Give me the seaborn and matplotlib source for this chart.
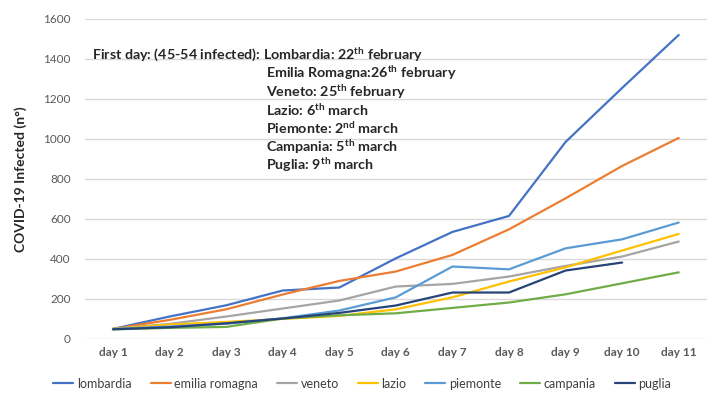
import numpy as np
import pandas as pd
import matplotlib
matplotlib.use("Agg")
import matplotlib.pyplot as plt
import seaborn as sns

days = [f"day {i}" for i in range(1, 12)]
regions = ["lombardia", "emilia romagna", "veneto", "lazio", "piemonte", "campania", "puglia"]
lombardia = [50, 112, 168, 242, 257, 403, 535, 615, 985, 1255, 1520]
emilia_romagna = [50, 95, 148, 222, 290, 337, 420, 548, 703, 865, 1005]
veneto = [50, 75, 112, 152, 192, 262, 275, 312, 365, 412, 487]
lazio = [50, 72, 85, 100, 115, 148, 208, 287, 358, 442, 525]
piemonte = [50, 62, 76, 103, 142, 208, 362, 348, 453, 498, 582]
campania = [48, 55, 60, 102, 118, 128, 155, 182, 223, 278, 333]
puglia = [48, 58, 78, 102, 130, 167, 232, 232, 342, 382, np.nan]
colors = ["#4472C4", "#ED7D31", "#A5A5A5", "#FFC000", "#5B9BD5", "#70AD47", "#264478"]

series = [lombardia, emilia_romagna, veneto, lazio, piemonte, campania, puglia]
df = pd.DataFrame({"day": days * len(regions),
                   "region": np.repeat(regions, len(days)),
                   "infected": np.concatenate(series)})

sns.set_theme(style="white")
plt.rcParams["font.family"] = ["Lato", "DejaVu Sans"]
plt.rcParams["mathtext.fontset"] = "custom"
plt.rcParams["mathtext.rm"] = "Lato"
plt.rcParams["mathtext.bf"] = "Lato:bold"

fig = plt.figure(figsize=(7.12, 3.95), dpi=100)
ax = fig.add_axes([0.119, 0.142, 0.874, 0.81])

sns.lineplot(data=df, x="day", y="infected", hue="region", hue_order=regions,
             palette=colors, linewidth=1.6, ax=ax, sort=False)

ax.set_xlim(-0.5, 10.5)
ax.set_ylim(0, 1600)
ax.set_yticks(range(0, 1601, 200))
ax.yaxis.grid(True, color="#D9D9D9", linewidth=1)
ax.set_axisbelow(True)
for s in ax.spines.values():
    s.set_visible(False)
ax.tick_params(axis="y", length=0, pad=10, labelsize=8.5, labelcolor="#595959")
ax.tick_params(axis="x", length=0, pad=6, labelsize=8.5, labelcolor="#595959")
for lab in ax.get_xticklabels():
    lab.set_fontweight("bold")
ax.set_xlabel("")
ax.set_ylabel("COVID-19 Infected (n°)", fontsize=10, fontweight="bold", labelpad=12)

sup = lambda s: r"$^{\mathbf{" + s + "}}$"
ax.text(0.012, 0.891, "First day: (45-54 infected): Lombardia: 22" + sup("th") + " february",
        transform=ax.transAxes, fontsize=10.3, fontweight="bold", va="center")
lines = ["Emilia Romagna:26" + sup("th") + " february",
         "Veneto: 25" + sup("th") + " february",
         "Lazio: 6" + sup("th") + " march",
         "Piemonte: 2" + sup("nd") + " march",
         "Campania: 5" + sup("th") + " march",
         "Puglia: 9" + sup("th") + " march"]
for i, t in enumerate(lines):
    ax.text(0.2915, 0.832 - i * 0.0578, t, transform=ax.transAxes,
            fontsize=10.3, fontweight="bold", va="center")

ax.legend(loc="center", bbox_to_anchor=(0.446, -0.14), ncol=7, frameon=False,
          fontsize=9, handlelength=1.6, handletextpad=0.3, columnspacing=1.5,
          labelcolor="#404040")

fig.savefig("out.png", dpi=100)
